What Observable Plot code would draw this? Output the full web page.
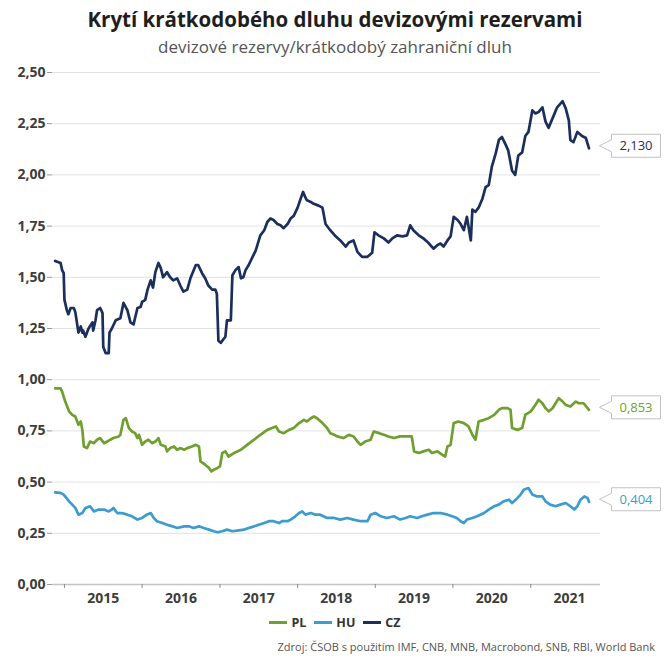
<!DOCTYPE html>
<html><head><meta charset="utf-8">
<script src="https://cdn.jsdelivr.net/npm/d3@7"></script>
<script src="https://cdn.jsdelivr.net/npm/@observablehq/plot@0.6"></script>
<style>
body{margin:0;background:#fff;font-family:"Open Sans",sans-serif;}
#wrap{position:relative;width:670px;height:670px;overflow:hidden;background:#fff}
#title{position:absolute;top:5px;left:0;width:670px;text-align:center;font-weight:700;font-size:20.5px;color:#1e1e1e;white-space:nowrap}
#subtitle{position:absolute;top:35px;left:0;width:670px;text-align:center;font-size:17px;color:#555;white-space:nowrap}
#chart{position:absolute;top:0;left:0}
#legend{position:absolute;top:614px;left:0;width:670px;text-align:center;font-size:12.5px;font-weight:700;color:#333;white-space:nowrap}
#legend .it{display:inline-block;margin:0 4px}
#legend .sw{display:inline-block;width:18px;height:2.5px;vertical-align:middle;margin-right:4px;position:relative;top:-1px}
#caption{position:absolute;top:639px;right:15px;font-size:11px;color:#555;white-space:nowrap}
</style></head>
<body><div id="wrap">
<div id="title"></div><div id="subtitle"></div>
<div id="chart"></div>
<div id="legend"></div>
<div id="caption"></div>
</div>
<script>
const titleText = "Krytí krátkodobého dluhu devizovými rezervami";
const subtitleText = "devizové rezervy/krátkodobý zahraniční dluh";
const captionText = "Zdroj: ČSOB s použitím IMF, CNB, MNB, Macrobond, SNB, RBI, World Bank";
const seriesNames = ["PL", "HU", "CZ"];
const seriesColors = ["#6f9f2e", "#3c9ccf", "#1b2f5c"];
const yTicks = [0, 0.25, 0.5, 0.75, 1, 1.25, 1.5, 1.75, 2, 2.25, 2.5];
const yearLabels = [2015, 2016, 2017, 2018, 2019, 2020, 2021];

// dates as decimal years
const czYears = [2014.88,2014.95,2014.97,2014.99,2015.00,2015.03,2015.05,2015.08,2015.12,2015.14,2015.16,2015.18,2015.21,2015.23,2015.24,2015.27,2015.31,2015.36,2015.37,2015.40,2015.42,2015.46,2015.49,2015.50,2015.53,2015.57,2015.58,2015.61,2015.66,2015.72,2015.76,2015.81,2015.85,2015.89,2015.94,2015.98,2016.00,2016.04,2016.07,2016.11,2016.14,2016.17,2016.21,2016.24,2016.27,2016.32,2016.36,2016.40,2016.45,2016.49,2016.53,2016.58,2016.62,2016.69,2016.72,2016.77,2016.81,2016.85,2016.90,2016.94,2016.96,2016.98,2017.01,2017.05,2017.07,2017.09,2017.14,2017.16,2017.20,2017.24,2017.27,2017.30,2017.33,2017.37,2017.42,2017.46,2017.50,2017.52,2017.57,2017.61,2017.65,2017.69,2017.74,2017.78,2017.82,2017.87,2017.91,2017.95,2018.00,2018.04,2018.07,2018.10,2018.12,2018.17,2018.20,2018.27,2018.32,2018.36,2018.42,2018.49,2018.55,2018.62,2018.66,2018.72,2018.77,2018.83,2018.90,2018.96,2018.99,2019.04,2019.11,2019.17,2019.22,2019.28,2019.35,2019.41,2019.45,2019.49,2019.56,2019.62,2019.68,2019.75,2019.80,2019.84,2019.88,2019.93,2019.97,2020.01,2020.06,2020.10,2020.14,2020.18,2020.23,2020.25,2020.29,2020.33,2020.38,2020.42,2020.46,2020.50,2020.55,2020.59,2020.63,2020.68,2020.71,2020.76,2020.80,2020.84,2020.89,2020.93,2020.97,2021.02,2021.06,2021.10,2021.15,2021.19,2021.23,2021.28,2021.34,2021.41,2021.45,2021.49,2021.51,2021.55,2021.60,2021.66,2021.71,2021.75];
const czValues = [1.58,1.57,1.535,1.52,1.39,1.34,1.32,1.35,1.35,1.33,1.28,1.23,1.26,1.23,1.24,1.21,1.25,1.28,1.24,1.29,1.34,1.35,1.325,1.16,1.13,1.13,1.23,1.25,1.29,1.30,1.375,1.34,1.28,1.27,1.35,1.355,1.38,1.39,1.44,1.485,1.45,1.525,1.57,1.545,1.50,1.525,1.50,1.485,1.495,1.46,1.43,1.44,1.495,1.56,1.56,1.52,1.495,1.46,1.44,1.44,1.42,1.19,1.18,1.20,1.21,1.29,1.29,1.51,1.535,1.55,1.495,1.50,1.535,1.56,1.60,1.63,1.68,1.705,1.73,1.77,1.787,1.78,1.76,1.754,1.74,1.76,1.787,1.80,1.84,1.885,1.917,1.89,1.876,1.868,1.86,1.85,1.84,1.76,1.73,1.70,1.68,1.65,1.67,1.68,1.624,1.60,1.60,1.62,1.72,1.705,1.69,1.67,1.69,1.705,1.70,1.705,1.754,1.73,1.705,1.69,1.67,1.64,1.657,1.665,1.65,1.68,1.70,1.795,1.78,1.76,1.73,1.795,1.68,1.83,1.82,1.84,1.885,1.94,1.95,2.04,2.105,2.17,2.185,2.145,2.12,2.02,2.00,2.095,2.11,2.19,2.21,2.315,2.30,2.307,2.33,2.26,2.23,2.276,2.33,2.36,2.325,2.266,2.17,2.16,2.21,2.19,2.18,2.130];

const plYears = [2014.88,2014.95,2014.97,2015.01,2015.06,2015.10,2015.14,2015.18,2015.21,2015.23,2015.25,2015.29,2015.33,2015.38,2015.42,2015.46,2015.51,2015.55,2015.59,2015.63,2015.70,2015.72,2015.76,2015.79,2015.83,2015.87,2015.91,2015.94,2015.96,2016.00,2016.04,2016.08,2016.13,2016.17,2016.21,2016.24,2016.30,2016.32,2016.36,2016.41,2016.45,2016.49,2016.54,2016.58,2016.64,2016.69,2016.73,2016.75,2016.81,2016.86,2016.89,2016.92,2016.97,2017.00,2017.03,2017.07,2017.11,2017.18,2017.27,2017.35,2017.44,2017.52,2017.61,2017.67,2017.72,2017.76,2017.82,2017.89,2017.95,2018.02,2018.08,2018.12,2018.17,2018.21,2018.25,2018.32,2018.38,2018.42,2018.47,2018.51,2018.59,2018.66,2018.72,2018.77,2018.81,2018.87,2018.94,2018.98,2019.05,2019.11,2019.17,2019.24,2019.32,2019.41,2019.47,2019.50,2019.56,2019.62,2019.69,2019.73,2019.80,2019.86,2019.90,2019.93,2019.97,2020.01,2020.07,2020.14,2020.20,2020.25,2020.29,2020.33,2020.40,2020.46,2020.53,2020.59,2020.63,2020.70,2020.74,2020.76,2020.83,2020.89,2020.93,2021.00,2021.06,2021.10,2021.15,2021.19,2021.23,2021.28,2021.32,2021.36,2021.41,2021.45,2021.51,2021.58,2021.62,2021.68,2021.75];
const plValues = [0.958,0.958,0.942,0.893,0.845,0.828,0.82,0.78,0.796,0.755,0.674,0.666,0.698,0.69,0.707,0.715,0.69,0.698,0.707,0.715,0.723,0.731,0.804,0.812,0.764,0.747,0.739,0.715,0.731,0.682,0.698,0.707,0.69,0.698,0.715,0.682,0.674,0.65,0.666,0.674,0.658,0.666,0.658,0.666,0.674,0.682,0.674,0.601,0.585,0.569,0.552,0.56,0.569,0.577,0.642,0.65,0.625,0.642,0.658,0.682,0.707,0.731,0.755,0.764,0.772,0.747,0.739,0.755,0.764,0.788,0.804,0.796,0.812,0.82,0.812,0.788,0.764,0.739,0.731,0.723,0.715,0.731,0.723,0.698,0.682,0.698,0.707,0.747,0.739,0.731,0.723,0.715,0.723,0.723,0.723,0.65,0.642,0.65,0.658,0.642,0.65,0.634,0.625,0.674,0.682,0.788,0.796,0.788,0.772,0.731,0.707,0.796,0.804,0.812,0.828,0.853,0.861,0.861,0.853,0.764,0.755,0.764,0.828,0.845,0.877,0.902,0.885,0.861,0.845,0.861,0.885,0.91,0.893,0.877,0.869,0.893,0.885,0.885,0.853];

const huYears = [2014.88,2014.95,2014.99,2015.06,2015.10,2015.14,2015.18,2015.23,2015.27,2015.33,2015.38,2015.44,2015.51,2015.57,2015.61,2015.63,2015.68,2015.74,2015.81,2015.87,2015.94,2016.00,2016.06,2016.11,2016.15,2016.19,2016.26,2016.32,2016.39,2016.45,2016.54,2016.60,2016.66,2016.73,2016.79,2016.86,2016.92,2016.97,2017.03,2017.09,2017.16,2017.22,2017.31,2017.37,2017.44,2017.50,2017.57,2017.63,2017.69,2017.76,2017.80,2017.87,2017.91,2017.97,2018.02,2018.06,2018.10,2018.17,2018.23,2018.29,2018.38,2018.47,2018.55,2018.64,2018.72,2018.81,2018.90,2018.94,2019.00,2019.07,2019.15,2019.24,2019.32,2019.39,2019.45,2019.54,2019.60,2019.67,2019.75,2019.84,2019.93,2019.99,2020.05,2020.10,2020.14,2020.18,2020.25,2020.31,2020.40,2020.46,2020.53,2020.59,2020.65,2020.72,2020.76,2020.83,2020.87,2020.91,2020.97,2021.02,2021.08,2021.15,2021.19,2021.25,2021.32,2021.38,2021.45,2021.51,2021.56,2021.60,2021.64,2021.69,2021.73,2021.75];
const huValues = [0.45,0.447,0.439,0.406,0.39,0.374,0.341,0.349,0.374,0.382,0.357,0.366,0.366,0.357,0.366,0.374,0.349,0.349,0.341,0.333,0.317,0.325,0.341,0.349,0.325,0.309,0.30,0.292,0.284,0.276,0.284,0.284,0.276,0.284,0.276,0.268,0.26,0.255,0.26,0.268,0.26,0.263,0.268,0.276,0.284,0.292,0.30,0.309,0.309,0.30,0.309,0.309,0.317,0.333,0.349,0.357,0.341,0.349,0.341,0.341,0.325,0.325,0.317,0.325,0.317,0.309,0.309,0.341,0.349,0.333,0.325,0.333,0.317,0.325,0.333,0.325,0.333,0.341,0.349,0.349,0.341,0.333,0.325,0.309,0.30,0.317,0.325,0.333,0.349,0.366,0.382,0.39,0.406,0.414,0.398,0.423,0.439,0.463,0.471,0.439,0.43,0.43,0.406,0.39,0.382,0.39,0.398,0.382,0.366,0.382,0.414,0.43,0.423,0.404];

function toDate(t) {
  const y = Math.floor(t);
  const a = Date.UTC(y, 0, 1), b = Date.UTC(y + 1, 0, 1);
  return new Date(a + (t - y) * (b - a));
}
const mk = (name, ys, vs) => ys.map((t, i) => ({series: name, date: toDate(t), value: vs[i]}));
const series = [mk("PL", plYears, plValues), mk("HU", huYears, huValues), mk("CZ", czYears, czValues)];
const all = series.flat();
const lasts = series.map(s => s[s.length - 1]);
const colorOf = Object.fromEntries(seriesNames.map((n, i) => [n, seriesColors[i]]));
const fmt2 = d => d.toFixed(2).replace(".", ",");
const fmt3 = d => d.toFixed(3).replace(".", ",");

document.getElementById("title").textContent = titleText;
document.getElementById("subtitle").textContent = subtitleText;
document.getElementById("caption").textContent = captionText;
document.getElementById("legend").innerHTML = seriesNames.map((n, i) =>
  `<span class="it"><span class="sw" style="background:${seriesColors[i]}"></span>${n}</span>`).join("");

const yearStarts = yearLabels.map(y => new Date(Date.UTC(y, 0, 1)));
const yearMids = yearLabels.map(y => new Date(Date.UTC(y, 6, 2)));

const chart = Plot.plot({
  width: 670, height: 612,
  marginLeft: 52, marginRight: 70, marginTop: 72, marginBottom: 28,
  style: {fontFamily: "Open Sans, sans-serif", background: "transparent"},
  x: {type: "utc", domain: [toDate(2014.846), toDate(2021.898)], label: null},
  y: {domain: [0, 2.5], label: null},
  marks: [
    Plot.gridY(yTicks.filter(d => d > 0), {stroke: "#e2e2e2", strokeOpacity: 1, strokeWidth: 1}),
    Plot.axisY(yTicks, {label: null, tickSize: 5, tickPadding: 2, tickFormat: fmt2, fontSize: 14, fontWeight: 700, fill: "#3d3d3d", stroke: "#9a9a9a"}),
    Plot.ruleY([0], {stroke: "#c4c4c4", strokeWidth: 1.5}),
    Plot.axisX(yearStarts, {label: null, tickSize: 4, tickFormat: () => "", stroke: "#8a8a8a"}),
    Plot.axisX(yearMids, {label: null, tickSize: 0, tickPadding: 9, tickFormat: d => String(d.getUTCFullYear()), fontSize: 14, fontWeight: 700, fill: "#3d3d3d"}),
    Plot.line(all, {x: "date", y: "value", z: "series", stroke: d => colorOf[d.series], strokeWidth: 2.7, strokeLinejoin: "round"})
  ]
});
document.getElementById("chart").appendChild(chart);

// end-value callouts positioned through the plot's scales
const sx = chart.scale("x"), sy = chart.scale("y");
const g = d3.select(chart).append("g");
lasts.forEach(d => {
  const x0 = sx.apply(d.date), y0 = sy.apply(d.value) - 2;
  const tip = x0 + 11, left = x0 + 23, right = left + 49, h = 23;
  const top = y0 - h / 2, bot = y0 + h / 2;
  g.append("path")
    .attr("d", `M${tip},${y0} L${left},${y0 - 6} L${left},${top} L${right},${top} L${right},${bot} L${left},${bot} L${left},${y0 + 6} Z`)
    .attr("fill", "#fff").attr("stroke", "#c2c2c2").attr("stroke-width", 1);
  g.append("text").attr("x", (left + right) / 2).attr("y", y0).attr("dy", "0.35em")
    .attr("text-anchor", "middle").attr("font-size", 13).attr("font-family", "Open Sans, sans-serif")
    .attr("fill", colorOf[d.series]).text(fmt3(d.value));
});
</script>
</body></html>
